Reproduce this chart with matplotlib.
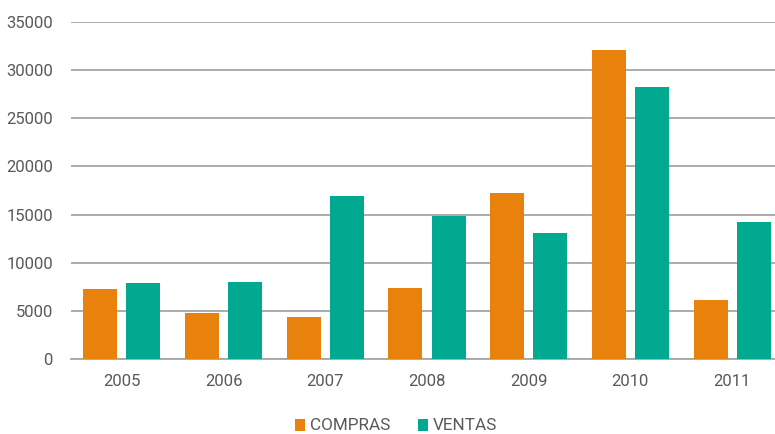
import matplotlib.pyplot as plt
import numpy as np

anios = ['2005', '2006', '2007', '2008', '2009', '2010', '2011']
compras = [7300, 4800, 4400, 7400, 17250, 32100, 6150]
ventas = [7900, 8000, 16950, 14900, 13100, 28300, 14250]

naranja = '#E8820C'
verde = '#00A98F'
gris_txt = '#595959'
gris_lin = '#A6A6A6'

plt.rcParams['font.family'] = ['Roboto', 'DejaVu Sans']

fig = plt.figure(figsize=(7.75, 4.34), dpi=100)
ax = fig.add_axes([71 / 775, 75 / 434, 712 / 775, 337 / 434])

x = np.arange(len(anios))
ancho = 0.335
ax.bar(x - 0.212, compras, ancho, color=naranja, label='COMPRAS', zorder=3)
ax.bar(x + 0.212, ventas, ancho, color=verde, label='VENTAS', zorder=3)

ax.set_xlim(-0.5, len(anios) - 0.5)
ax.set_ylim(0, 35000)
ax.set_yticks(range(0, 35001, 5000))
ax.set_xticks(x)
ax.set_xticklabels(anios)
ax.yaxis.grid(True, color=gris_lin, linewidth=1.3, zorder=0)
ax.tick_params(axis='both', length=0, labelsize=12, colors=gris_txt)
ax.tick_params(axis='y', pad=13)
ax.tick_params(axis='x', pad=11)
for lado in ['top', 'right', 'left']:
    ax.spines[lado].set_visible(False)
ax.spines['bottom'].set_color(gris_lin)
ax.spines['bottom'].set_linewidth(1.3)

fig.legend(loc='center', bbox_to_anchor=(396 / 775, 8 / 434), ncol=2,
           frameon=False, fontsize=12.3, labelcolor=gris_txt,
           handlelength=0.6, handleheight=0.7, handletextpad=0.3,
           columnspacing=1.6)

fig.savefig('out.png', dpi=100)
